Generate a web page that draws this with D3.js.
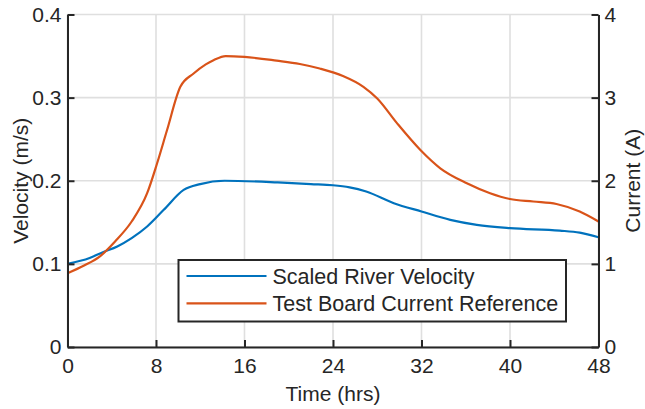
<!DOCTYPE html>
<html>
<head>
<meta charset="utf-8">
<script src="https://cdn.jsdelivr.net/npm/d3@7"></script>
<style>
  html, body { margin: 0; padding: 0; background: #fff; }
  svg { display: block; }
  text { font-family: "Liberation Sans", Arial, sans-serif; fill: #262626; }
</style>
</head>
<body>
<svg id="chart" width="645" height="409"></svg>
<script>
// River velocity (left axis, m/s) sampled over the 48-hour test
const velocityHours  = [0, 2, 3.2, 4.5, 5.8, 7.2, 8.7, 10.5, 12, 14.2, 19, 22, 24, 25.5, 27, 29.5, 32, 34.6, 37, 40, 44.5, 46.3, 48];
const velocityValues = [0.100, 0.107, 0.114, 0.121, 0.131, 0.145, 0.165, 0.189, 0.196, 0.200, 0.198, 0.196, 0.1946, 0.192, 0.187, 0.173, 0.163, 0.153, 0.147, 0.143, 0.140, 0.1375, 0.132];

// Test board current reference (right axis, A)
const currentHours  = [0, 1.5, 2.9, 4.3, 5.8, 7.2, 8.1, 9.0, 10.2, 11.4, 12.5, 13.2, 14.3, 16, 18.9, 21, 22.8, 24.9, 26.75, 28, 29.8, 31.9, 33.7, 36.1, 38.2, 40, 42.1, 44.2, 46.3, 48];
const currentValues = [0.887, 0.98, 1.087, 1.27, 1.51, 1.85, 2.21, 2.61, 3.13, 3.29, 3.40, 3.45, 3.50, 3.49, 3.445, 3.405, 3.35, 3.26, 3.13, 2.99, 2.69, 2.37, 2.15, 1.97, 1.85, 1.78, 1.75, 1.72, 1.63, 1.51];

const xTicks = [0, 8, 16, 24, 32, 40, 48];
const leftTicks = [0, 0.1, 0.2, 0.3, 0.4];
const rightTicks = [0, 1, 2, 3, 4];
const seriesNames = ["Scaled River Velocity", "Test Board Current Reference"];
const seriesColors = ["#0072BD", "#D95319"];

const svg = d3.select("#chart");
const L = 67.5, R = 598.5, T = 14.5, B = 347;
const FS = "21px";

const x = d3.scaleLinear().domain([0, 48]).range([L, R]);
const yV = d3.scaleLinear().domain([0, 0.4]).range([B, T]);
const yC = d3.scaleLinear().domain([0, 4]).range([B, T]);

const axisColor = "#262626";
const gridColor = "#dfdfdf";

// grid
const grid = svg.append("g");
grid.selectAll(".gx").data(xTicks).join("line")
  .attr("x1", d => x(d)).attr("x2", d => x(d))
  .attr("y1", T).attr("y2", B)
  .attr("stroke", gridColor).attr("stroke-width", 1.6);
grid.selectAll(".gy").data(leftTicks).join("line")
  .attr("x1", L).attr("x2", R)
  .attr("y1", d => yV(d)).attr("y2", d => yV(d))
  .attr("stroke", gridColor).attr("stroke-width", 1.6);

// series
const velLine = d3.line().x((d, i) => x(velocityHours[i])).y(d => yV(d)).curve(d3.curveMonotoneX);
const curLine = d3.line().x((d, i) => x(currentHours[i])).y(d => yC(d)).curve(d3.curveMonotoneX);

svg.append("path").attr("d", velLine(velocityValues))
  .attr("fill", "none").attr("stroke", seriesColors[0]).attr("stroke-width", 2.2);
svg.append("path").attr("d", curLine(currentValues))
  .attr("fill", "none").attr("stroke", seriesColors[1]).attr("stroke-width", 2.2);

// axes
function styleAxis(g) {
  g.selectAll(".domain").attr("stroke", axisColor).attr("stroke-width", 2);
  g.selectAll(".tick line").attr("stroke", axisColor).attr("stroke-width", 2);
  g.selectAll(".tick text").attr("fill", axisColor).style("font-size", FS)
    .style("font-family", "'Liberation Sans', Arial, sans-serif");
}

const xAxis = svg.append("g").attr("transform", `translate(0,${B})`)
  .call(d3.axisBottom(x).tickValues(xTicks).tickSizeInner(-7).tickSizeOuter(0).tickPadding(11).tickFormat(d3.format("d")));
styleAxis(xAxis);

const leftAxis = svg.append("g").attr("transform", `translate(${L},0)`)
  .call(d3.axisLeft(yV).tickValues(leftTicks).tickSizeInner(-7).tickSizeOuter(0).tickPadding(6)
    .tickFormat(d => d === 0 ? "0" : d3.format(".1f")(d)));
styleAxis(leftAxis);

const rightAxis = svg.append("g").attr("transform", `translate(${R},0)`)
  .call(d3.axisRight(yC).tickValues(rightTicks).tickSizeInner(-7).tickSizeOuter(0).tickPadding(6).tickFormat(d3.format("d")));
styleAxis(rightAxis);

// axis titles
svg.append("text").attr("x", (L + R) / 2).attr("y", 400.5)
  .attr("text-anchor", "middle").style("font-size", FS).text("Time (hrs)");
svg.append("text").attr("transform", `translate(28,${(T + B) / 2}) rotate(-90)`)
  .attr("text-anchor", "middle").style("font-size", FS).text("Velocity (m/s)");
svg.append("text").attr("transform", `translate(640,${(T + B) / 2}) rotate(-90)`)
  .attr("text-anchor", "middle").style("font-size", FS).text("Current (A)");

// legend
const lg = svg.append("g");
lg.append("rect").attr("x", 178.5).attr("y", 260).attr("width", 387.5).attr("height", 61.5)
  .attr("fill", "#fff").attr("stroke", axisColor).attr("stroke-width", 2);
const rows = [276, 303.3];
seriesNames.forEach((name, i) => {
  lg.append("line").attr("x1", 186.5).attr("x2", 266.5).attr("y1", rows[i]).attr("y2", rows[i])
    .attr("stroke", seriesColors[i]).attr("stroke-width", 2.2);
  lg.append("text").attr("x", 272.5).attr("y", rows[i]).attr("dy", "0.35em")
    .style("font-size", "21.5px").text(name);
});
</script>
</body>
</html>
